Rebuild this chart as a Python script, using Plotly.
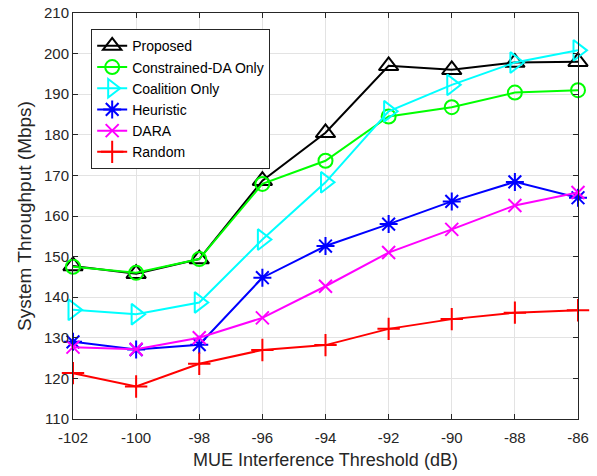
import plotly.graph_objects as go

x_vals = [-102, -100, -98, -96, -94, -92, -90, -88, -86]
proposed = [147.7, 145.8, 149.4, 168.7, 180.5, 197.0, 196.0, 197.8, 198.0]
constrained_da = [147.5, 146.0, 149.4, 167.9, 173.6, 184.5, 186.8, 190.4, 191.0]
coalition = [136.9, 135.8, 138.7, 154.2, 168.3, 185.8, 192.3, 197.8, 200.8]
heuristic = [129.0, 127.1, 128.3, 144.8, 152.6, 158.0, 163.6, 168.4, 164.5]
dara = [127.7, 127.2, 130.0, 134.9, 142.7, 151.0, 156.7, 162.6, 165.8]
random_ = [121.3, 118.0, 123.6, 127.0, 128.2, 132.2, 134.6, 136.2, 136.8]

names = ["Proposed", "Constrained-DA Only", "Coalition Only", "Heuristic", "DARA", "Random"]
series = [proposed, constrained_da, coalition, heuristic, dara, random_]
colors = ["#000000", "#00ff00", "#00ffff", "#0000ff", "#ff00ff", "#ff0000"]
symbols = ["triangle-up-open", "circle-open", "triangle-right-open", "asterisk-open", "x-thin-open", "cross-thin-open"]
sizes = [17, 14, 18, 15, 13, 16]

fig = go.Figure()
for n, s, c, sym, sz in zip(names, series, colors, symbols, sizes):
    fig.add_trace(go.Scatter(
        x=x_vals, y=s, name=n, mode="lines+markers",
        line=dict(color=c, width=2),
        marker=dict(symbol=sym, size=sz, color=c, line=dict(color=c, width=2)),
        cliponaxis=False,
    ))

axis_common = dict(
    showgrid=True, gridcolor="#e3e3e3", gridwidth=1,
    showline=True, linecolor="#262626", linewidth=1, mirror="ticks",
    ticks="inside", ticklen=5, tickcolor="#262626",
    tickfont=dict(family="Liberation Sans, Arial", size=15, color="#262626"),
    zeroline=False, automargin=False,
)

fig.update_layout(
    width=597, height=476,
    margin=dict(l=73, r=19, t=13, b=57),
    paper_bgcolor="white", plot_bgcolor="white",
    font=dict(family="Liberation Sans, Arial", color="#262626"),
    xaxis=dict(range=[-102, -86], tickvals=x_vals, ticktext=[str(v) for v in x_vals],
               ticklabelstandoff=5,
               title=dict(text="MUE Interference Threshold (dB)", font=dict(size=18), standoff=8),
               **axis_common),
    yaxis=dict(range=[110, 210], dtick=10,
               title=dict(text="System Throughput (Mbps)", font=dict(size=19), standoff=7),
               **axis_common),
    legend=dict(x=0.036, y=0.96, xanchor="left", yanchor="top",
                bgcolor="white", bordercolor="#262626", borderwidth=1,
                font=dict(family="Liberation Sans, Arial", size=14, color="#000000"),
                tracegroupgap=0, itemwidth=30),
    showlegend=True,
)

fig.write_html("out.html")
